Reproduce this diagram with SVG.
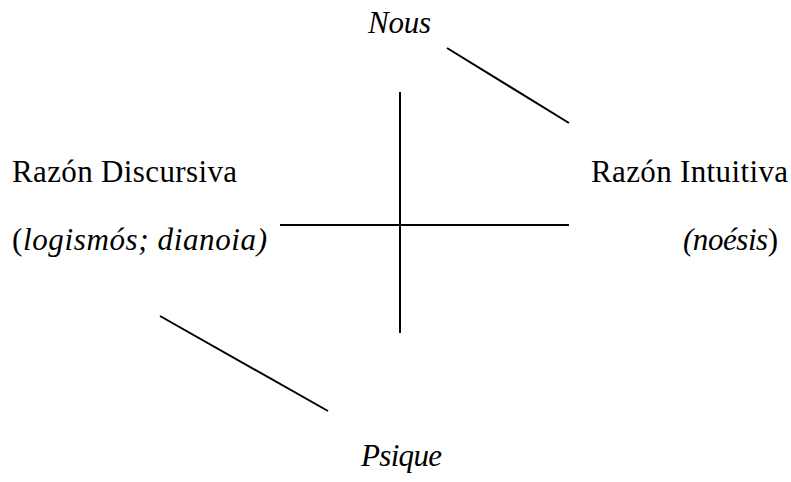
<svg xmlns="http://www.w3.org/2000/svg" width="791" height="482" viewBox="0 0 791 482">
<style>
.t{font-family:'Liberation Serif','Times New Roman',Times,serif;font-size:31px;fill:#000}
.i{font-style:italic}
line{stroke:#000;stroke-width:2}
</style>
<rect width="791" height="482" fill="#fff"/>
<g id="connectors">
<line x1="447" y1="48" x2="569" y2="123"/>
<line x1="400" y1="92" x2="400" y2="333"/>
<line x1="280" y1="225" x2="569" y2="225"/>
<line x1="160" y1="316" x2="328" y2="411"/>
</g>
<g id="nous"><text class="t i" x="368" y="33" textLength="63">Nous</text></g>
<g id="discursiva">
<text class="t" x="12" y="182" textLength="225">Razón Discursiva</text>
<text class="t" x="12" y="250" textLength="255">(<tspan class="i">logismós; dianoia)</tspan></text>
</g>
<g id="intuitiva">
<text class="t" x="591" y="182" textLength="197">Razón Intuitiva</text>
<text class="t" x="683" y="250" textLength="95"><tspan class="i">(noésis</tspan>)</text>
</g>
<g id="psique"><text class="t i" x="361" y="466" textLength="81">Psique</text></g>
</svg>
